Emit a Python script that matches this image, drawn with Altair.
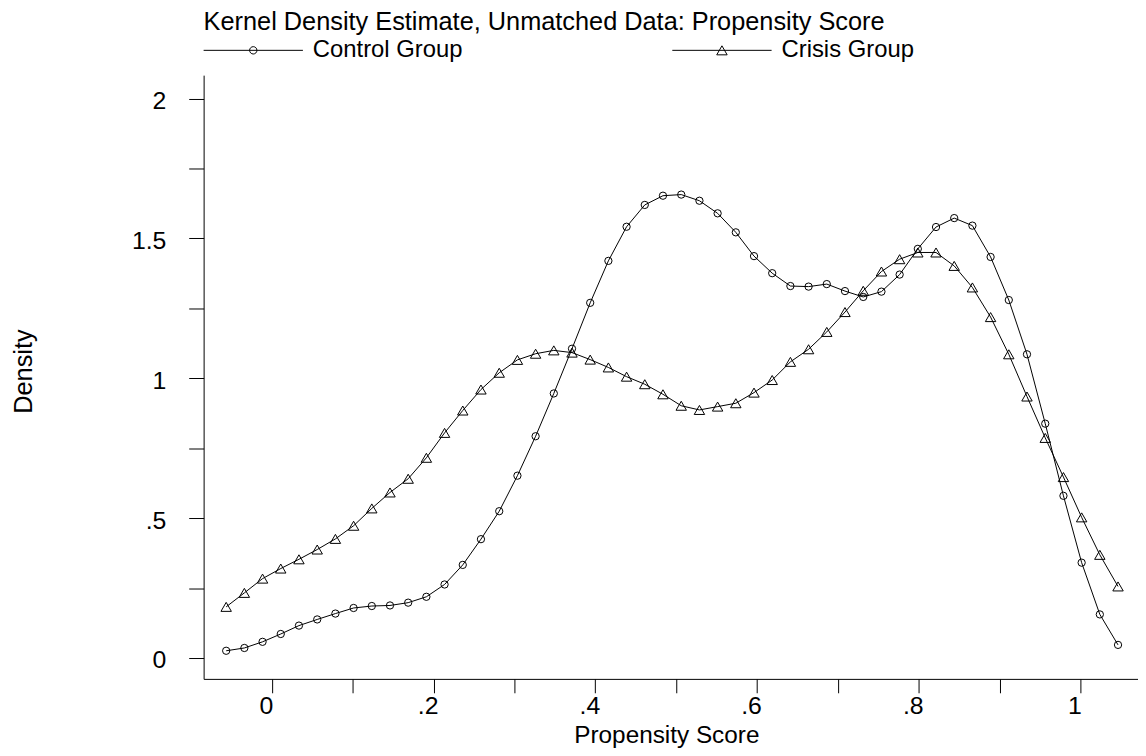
import altair as alt
import pandas as pd

# ---- data ----
x_grid = [-0.0565, -0.0340, -0.0115, 0.0110, 0.0335, 0.0561, 0.0786, 0.1011, 0.1236, 0.1461,
          0.1686, 0.1911, 0.2136, 0.2361, 0.2586, 0.2812, 0.3037, 0.3262, 0.3487, 0.3712,
          0.3937, 0.4162, 0.4387, 0.4612, 0.4837, 0.5063, 0.5288, 0.5513, 0.5738, 0.5963,
          0.6188, 0.6413, 0.6638, 0.6863, 0.7088, 0.7314, 0.7539, 0.7764, 0.7989, 0.8214,
          0.8439, 0.8664, 0.8889, 0.9114, 0.9339, 0.9565, 0.9790, 1.0015, 1.0240, 1.0465]

control = [0.026, 0.036, 0.058, 0.086, 0.116, 0.138, 0.159, 0.179, 0.186, 0.188,
           0.198, 0.219, 0.263, 0.333, 0.425, 0.525, 0.652, 0.793, 0.946, 1.106,
           1.270, 1.420, 1.542, 1.620, 1.653, 1.657, 1.635, 1.590, 1.522, 1.437,
           1.376, 1.330, 1.328, 1.337, 1.312, 1.291, 1.310, 1.371, 1.463, 1.541,
           1.573, 1.546, 1.434, 1.280, 1.086, 0.838, 0.580, 0.341, 0.156, 0.047]

crisis = [0.183, 0.233, 0.284, 0.320, 0.353, 0.388, 0.426, 0.473, 0.535, 0.592,
          0.641, 0.716, 0.805, 0.885, 0.960, 1.020, 1.066, 1.088, 1.100, 1.092,
          1.067, 1.039, 1.006, 0.979, 0.943, 0.902, 0.887, 0.899, 0.911, 0.949,
          0.994, 1.059, 1.104, 1.166, 1.237, 1.313, 1.382, 1.426, 1.450, 1.450,
          1.402, 1.325, 1.219, 1.086, 0.935, 0.787, 0.647, 0.503, 0.369, 0.256]

groups = ["Control Group", "Crisis Group"]
chart_title = "Kernel Density Estimate, Unmatched Data: Propensity Score"
x_title = "Propensity Score"
y_title = "Density"

x_tick_values = [0, 0.1, 0.2, 0.3, 0.4, 0.5, 0.6, 0.7, 0.8, 0.9, 1.0]
x_tick_labels = ["0", "", ".2", "", ".4", "", ".6", "", ".8", "", "1"]
y_tick_values = [0, 0.25, 0.5, 0.75, 1.0, 1.25, 1.5, 1.75, 2.0]
y_tick_labels = ["0", "", ".5", "", "1", "", "1.5", "", "2"]

# ---- table ----
rows = []
for xv, c, k in zip(x_grid, control, crisis):
    rows.append({"x": xv, "density": c, "group": groups[0]})
    rows.append({"x": xv, "density": k, "group": groups[1]})
df = pd.DataFrame(rows)


def label_expr(vals, labs):
    parts = [f"abs(datum.value - ({v})) < 1e-6 ? '{l}'" for v, l in zip(vals, labs) if l]
    return " : ".join(parts) + " : ''"


FONT = "Liberation Sans, Arial, Helvetica, sans-serif"
W, H = 941, 608

x_scale = alt.Scale(domain=[-0.0844, 1.0712], nice=False, zero=False)
y_scale = alt.Scale(domain=[-0.0745, 2.084], nice=False, zero=False)

x_enc = alt.X(
    "x:Q", scale=x_scale,
    axis=alt.Axis(
        values=x_tick_values, labelExpr=label_expr(x_tick_values, x_tick_labels),
        title=x_title, tickSize=14, labelPadding=21, labelBaseline="alphabetic",
        labelAlign="center", labelOffset=-6, labelOverlap=False, labelFlush=False,
        titleX=466, titleY=64, titleBaseline="alphabetic", titleAlign="center",
        titleFontSize=24.5,
    ),
)
y_enc = alt.Y(
    "density:Q", scale=y_scale,
    axis=alt.Axis(
        values=y_tick_values, labelExpr=label_expr(y_tick_values, y_tick_labels),
        title=y_title, tickSize=15, labelPadding=23, labelAlign="right",
        labelBaseline="middle", labelOffset=2, labelOverlap=False, labelFlush=False,
        titleX=-173, titleY=298, titleAngle=270, titleBaseline="alphabetic",
        titleAlign="center", titleFontSize=25.5,
    ),
)

lines = alt.Chart(df).mark_line(color="black", strokeWidth=1).encode(
    x=x_enc, y=y_enc, detail="group:N"
)

points = alt.Chart(df).mark_point(filled=False, color="black", strokeWidth=1, opacity=1).encode(
    x=x_enc, y=y_enc,
    shape=alt.Shape("group:N", scale=alt.Scale(domain=groups, range=["circle", "triangle-up"]), legend=None),
    size=alt.Size("group:N", scale=alt.Scale(domain=groups, range=[54, 110]), legend=None),
)

# legend-only layer: symbols drawn as a line with the marker in its middle
# (symbol size 100 -> 5 px per path unit; the line spans 100 px)
path_control = "M-10,0H10M0.74,0A0.74,0.74,0,1,1,-0.74,0A0.74,0.74,0,1,1,0.74,0"
path_crisis = "M-10,0H10M0,-0.908L-1.05,0.908L1.05,0.908Z"

legend_layer = alt.Chart(df).transform_filter("false").mark_point(
    filled=False, color="black", strokeWidth=1, size=100, opacity=1
).encode(
    shape=alt.Shape(
        "group:N",
        scale=alt.Scale(domain=groups, range=[path_control, path_crisis]),
        legend=alt.Legend(
            title=chart_title, orient="none", legendX=0, legendY=-65,
            direction="horizontal", columns=2, columnPadding=209,
            symbolSize=100, symbolStrokeWidth=1, symbolStrokeColor="black",
            symbolOpacity=1, symbolOffset=38, labelOffset=48, padding=0, titlePadding=2.5,
            titleFontSize=25.5, titleFontWeight="normal", titleFont=FONT, titleColor="black",
            labelFontSize=24, labelFont=FONT, labelColor="black", labelLimit=0,
            titleLimit=0,
        ),
    )
)

chart = alt.layer(lines, points, legend_layer).resolve_scale(
    shape="independent"
).properties(
    width=W, height=H,
    autosize=alt.AutoSizeParams(type="none"),
    padding={"left": 197, "top": 65, "right": 0, "bottom": 70},
    background="white",
).configure_view(stroke=None).configure_axis(
    grid=False, domainColor="black", domainWidth=1, tickColor="black", tickWidth=1,
    labelColor="black", titleColor="black", labelFont=FONT, titleFont=FONT,
    labelFontSize=25, titleFontSize=24, titleFontWeight="normal",
)

chart.save("out.html", embed_options={"renderer": "svg", "actions": False})
